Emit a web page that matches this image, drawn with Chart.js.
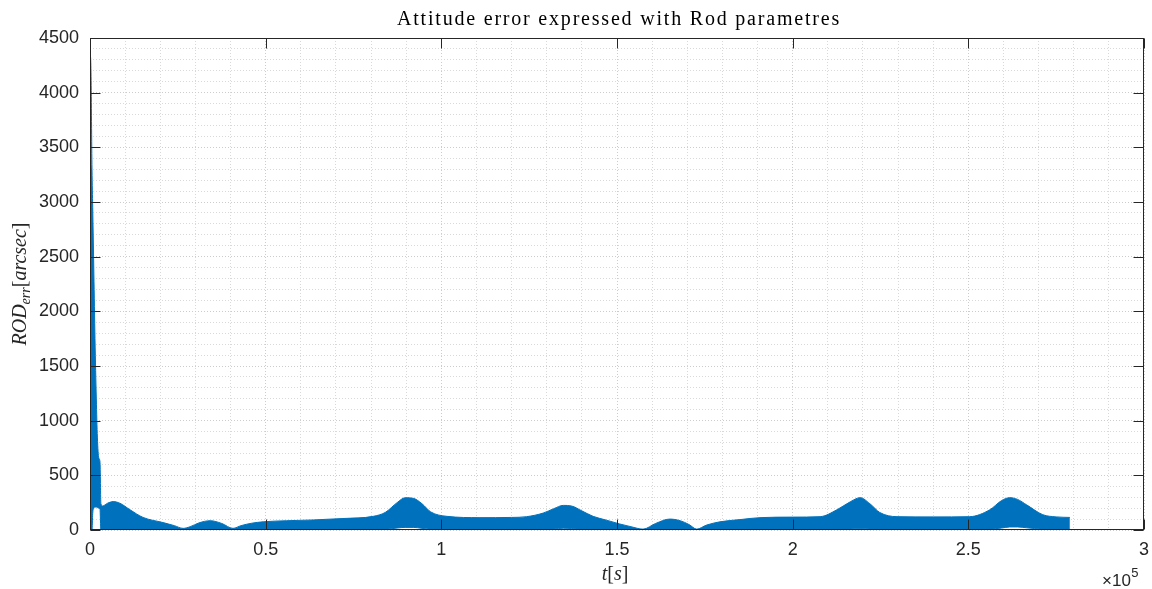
<!DOCTYPE html>
<html>
<head>
<meta charset="utf-8">
<script src="https://cdn.jsdelivr.net/npm/chart.js@4/dist/chart.umd.min.js"></script>
<style>
  html, body { margin: 0; padding: 0; background: #fff; }
  #wrap { width: 1152px; height: 589px; position: relative; }
</style>
</head>
<body>
<div id="wrap"><canvas id="rodChart"></canvas></div>
<script>
// Rodrigues-parameter attitude error, drawn as the envelope of a fast oscillation

// time samples [s]
const tSec = [
  0, 150, 300, 570, 770, 1100, 1420, 1800, 2100, 2500, 2850, 3100, 3600, 5000, 6600, 8500,
  11400, 15100, 20800, 24000, 26500, 28500, 31000, 34200, 37500, 40700, 43000, 46000, 49300,
  56000, 63500, 72000, 80600, 84000, 87400, 89700, 92000, 94500, 97000, 101600, 111000,
  120000, 124300, 129000, 132000, 134700, 137000, 140000, 143200, 147000, 150800, 154000,
  157400, 161000, 165000, 168000, 170500, 172700, 175500, 179300, 185000, 190700, 200000,
  207800, 212600, 216500, 219200, 222000, 224800, 229700, 240000, 250400, 256100, 259500,
  261800, 264000, 266600, 271200, 275000, 278900
];

// upper envelope of ROD_err [arcsec]
const rodUpper = [
  4350, 4330, 4150, 3300, 2950, 2350, 1750, 1200, 850, 660, 620, 240, 220, 245, 260, 245,
  185, 115, 68, 40, 15, 30, 65, 85, 60, 15, 40, 62, 75,
  85, 92, 105, 125, 160, 250, 295, 290, 240, 165, 125, 113,
  115, 122, 155, 195, 225, 220, 175, 125, 90, 55, 30,
  8, 60, 100, 85, 50, 8, 45, 75, 95, 113, 118,
  122, 185, 260, 296, 240, 160, 122, 120, 122, 185, 270,
  296, 280, 230, 140, 120, 115
];

// lower envelope of ROD_err [arcsec]
const rodLower = [
  0, 0, 0, 0, 150, 200, 210, 210, 205, 200, 190, 0, 0, 0, 0, 0,
  0, 0, 0, 0, 0, 0, 0, 0, 0, 0, 0, 2, 3,
  3, 4, 4, 5, 6, 18, 24, 24, 15, 6, 4, 3,
  3, 3, 5, 10, 16, 14, 6, 3, 2, 0, 0,
  0, 0, 0, 0, 0, 0, 0, 2, 3, 4, 4,
  4, 6, 10, 12, 10, 6, 4, 4, 5, 8, 18,
  28, 28, 20, 8, 6, 6
];

// axis ticks
const xMajor = [0, 50000, 100000, 150000, 200000, 250000, 300000];
const yMajor = [0, 500, 1000, 1500, 2000, 2500, 3000, 3500, 4000, 4500];

const titleText = "Attitude error expressed with Rod parametres";
const lineBlue = "#0072BD";
const axisInk = "#262626";
const tickFont = { family: "Liberation Sans, Arial, sans-serif", size: 18 };
const serif = "Liberation Serif, Times New Roman, serif";

function pts(ys){ return tSec.map((t, i) => ({ x: t, y: ys[i] })); }

// draw a run of differently styled text pieces, centred on the current origin
function drawPieces(ctx, pieces){
  let total = 0;
  for (const p of pieces){ ctx.font = p.font; p.w = ctx.measureText(p.text).width; total += p.w; }
  let cx = -total / 2;
  for (const p of pieces){
    ctx.font = p.font;
    ctx.fillText(p.text, cx, p.dy || 0);
    cx += p.w;
  }
}

const matlabAxes = {
  id: "matlabAxes",
  afterDatasetsDraw(chart){
    const { ctx, chartArea: a, scales: { x, y } } = chart;
    const L = Math.round(a.left) + 0.5, R = Math.round(a.right) - 0.5;
    const T = Math.round(a.top) + 0.5, B = Math.round(a.bottom) - 0.5;
    const tl = 10;
    ctx.save();
    ctx.strokeStyle = axisInk;
    ctx.lineWidth = 1;
    ctx.strokeRect(L, T, R - L, B - T);
    ctx.beginPath();
    for (const v of xMajor){
      const px = Math.round(x.getPixelForValue(v)) + 0.5;
      ctx.moveTo(px, B); ctx.lineTo(px, B - tl);
      ctx.moveTo(px, T); ctx.lineTo(px, T + tl);
    }
    for (const v of yMajor){
      const py = Math.round(y.getPixelForValue(v)) + 0.5;
      ctx.moveTo(L, py); ctx.lineTo(L + tl, py);
      ctx.moveTo(R, py); ctx.lineTo(R - tl, py);
    }
    ctx.stroke();
    ctx.restore();
  },
  afterDraw(chart){
    const { ctx, chartArea: a } = chart;
    ctx.save();
    ctx.fillStyle = "#000";
    ctx.textBaseline = "alphabetic";
    ctx.textAlign = "left";

    // title
    ctx.save();
    ctx.translate((a.left + a.right) / 2 + 2, 25);
    ctx.letterSpacing = "1.8px";
    drawPieces(ctx, [{ text: titleText, font: "20px " + serif }]);
    ctx.restore();

    // y label: ROD_err [arcsec]
    ctx.save();
    ctx.fillStyle = axisInk;
    ctx.translate(26, (a.top + a.bottom) / 2);
    ctx.rotate(-Math.PI / 2);
    drawPieces(ctx, [
      { text: "ROD", font: "italic 20px " + serif },
      { text: "err", font: "italic 14px " + serif, dy: 4 },
      { text: "[", font: "20px " + serif },
      { text: "arcsec", font: "italic 20px " + serif },
      { text: "]", font: "20px " + serif }
    ]);
    ctx.restore();

    // x label: t[s]
    ctx.save();
    ctx.fillStyle = axisInk;
    ctx.translate((a.left + a.right) / 2 - 2, 580);
    drawPieces(ctx, [
      { text: "t", font: "italic 20px " + serif },
      { text: "[", font: "20px " + serif },
      { text: "s", font: "italic 20px " + serif },
      { text: "]", font: "20px " + serif }
    ]);
    ctx.restore();

    // exponent
    ctx.fillStyle = axisInk;
    ctx.font = "17px " + tickFont.family;
    ctx.fillText("\u00d710", 1102, 586);
    const w = ctx.measureText("\u00d710").width;
    ctx.font = "13px " + tickFont.family;
    ctx.fillText("5", 1102 + w + 0.5, 577);
    ctx.restore();
  }
};

new Chart(document.getElementById("rodChart"), {
  type: "line",
  data: {
    datasets: [
      {
        label: "upper",
        data: pts(rodUpper),
        borderColor: lineBlue,
        backgroundColor: lineBlue,
        borderWidth: 1,
        pointRadius: 0,
        cubicInterpolationMode: "monotone",
        fill: "+1"
      },
      {
        label: "lower",
        data: pts(rodLower),
        borderColor: lineBlue,
        borderWidth: 1,
        pointRadius: 0,
        cubicInterpolationMode: "monotone",
        fill: false
      }
    ]
  },
  options: {
    responsive: true,
    maintainAspectRatio: false,
    animation: false,
    layout: { padding: { top: 38, right: 8, left: 0, bottom: 0 } },
    plugins: { legend: { display: false }, tooltip: { enabled: false } },
    scales: {
      x: {
        type: "linear",
        min: 0, max: 300000,
        afterFit: (s) => { s.height = 59; s.paddingLeft = 0; s.paddingRight = 0; },
        grid: {
          drawTicks: false,
          lineWidth: 1,
          color: (c) => (c.tick && c.tick.value % 50000 === 0) ? "#cccccc" : "#d9d9d9"
        },
        border: { display: false, dash: [1, 2] },
        ticks: {
          stepSize: 10000,
          maxTicksLimit: 1000,
          autoSkip: false,
          maxRotation: 0,
          padding: 9,
          color: axisInk,
          font: tickFont,
          callback: (v) => (v % 50000 === 0) ? String(v / 100000) : ""
        }
      },
      y: {
        min: 0, max: 4500,
        afterFit: (s) => { s.width = 90; s.paddingTop = 0; s.paddingBottom = 0; },
        grid: {
          drawTicks: false,
          lineWidth: 1,
          color: (c) => (c.tick && c.tick.value % 500 === 0) ? "#cccccc" : "#d9d9d9"
        },
        border: { display: false, dash: [1, 2] },
        ticks: {
          stepSize: 100,
          maxTicksLimit: 1000,
          autoSkip: false,
          padding: 11,
          color: axisInk,
          font: tickFont,
          callback: (v) => (v % 500 === 0) ? String(v) : ""
        }
      }
    }
  },
  plugins: [matlabAxes]
});
</script>
</body>
</html>
